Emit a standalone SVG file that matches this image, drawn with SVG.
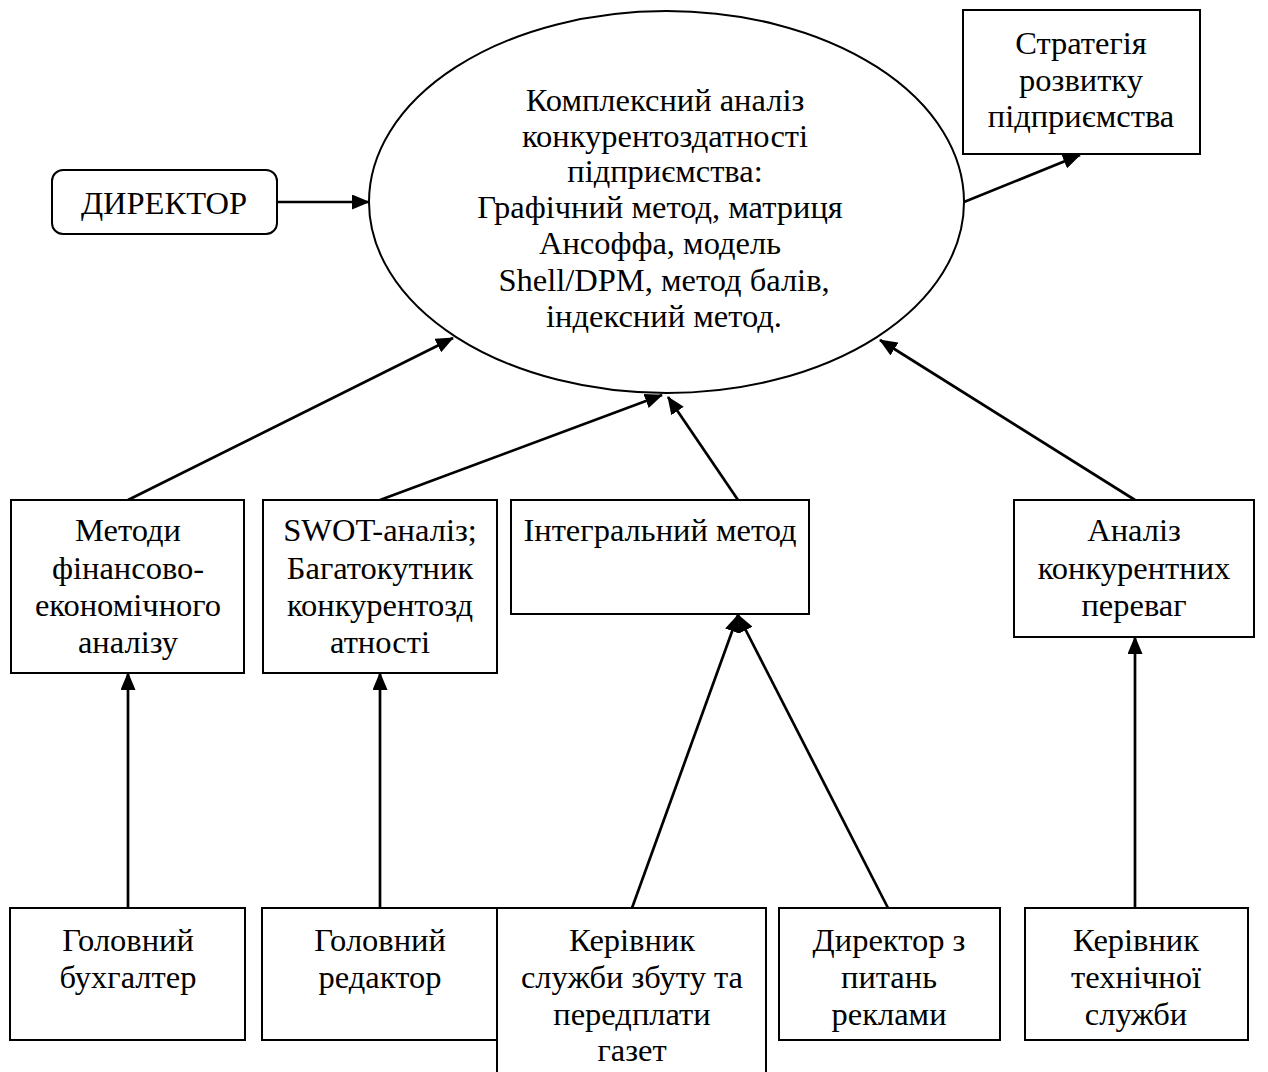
<svg xmlns="http://www.w3.org/2000/svg" width="1268" height="1072" viewBox="0 0 1268 1072">
<defs>
<marker id="ah" markerUnits="userSpaceOnUse" markerWidth="18" markerHeight="15" refX="17" refY="7.5" orient="auto">
<path d="M0,0 L18,7.5 L0,15 Z" fill="#000"/>
</marker>
<style>
.box{fill:#fff;stroke:#000;stroke-width:2}
.t{font-family:"Liberation Serif","Times New Roman",serif;font-size:32.5px;fill:#000;text-anchor:middle}
.c{stroke:#000;stroke-width:2.7;fill:none;marker-end:url(#ah)}
</style>
</defs>
<rect width="1268" height="1072" fill="#fff"/>
<g id="connectors">
<line class="c" x1="277" y1="202" x2="369" y2="202"/>
<line class="c" x1="964" y1="202" x2="1080" y2="155"/>
<line class="c" x1="128" y1="500" x2="453" y2="338"/>
<line class="c" x1="380" y1="500" x2="662" y2="395"/>
<line class="c" x1="738" y1="500" x2="668" y2="397"/>
<line class="c" x1="1135" y1="500" x2="880" y2="340"/>
<line class="c" x1="128" y1="908" x2="128" y2="673"/>
<line class="c" x1="380" y1="908" x2="380" y2="673"/>
<line class="c" x1="632" y1="908" x2="738" y2="615"/>
<line class="c" x1="888" y1="908" x2="738" y2="615"/>
<line class="c" x1="1135" y1="908" x2="1135" y2="637"/>
</g>
<g id="director">
<rect class="box" x="52" y="170" width="225" height="64" rx="11"/>
<text class="t" x="164" y="214">ДИРЕКТОР</text>
</g>
<g id="analysis">
<ellipse class="box" cx="666.5" cy="202" rx="297.5" ry="191"/>
<text class="t" x="665" y="111">Комплексний аналіз</text>
<text class="t" x="665" y="147">конкурентоздатності</text>
<text class="t" x="665" y="182">підприємства:</text>
<text class="t" x="660" y="218">Графічний метод, матриця</text>
<text class="t" x="660" y="254">Ансоффа, модель</text>
<text class="t" x="664" y="291">Shell/DPM, метод балів,</text>
<text class="t" x="664" y="327">індексний метод.</text>
</g>
<g id="strategy">
<rect class="box" x="963" y="10" width="237" height="144"/>
<text class="t" x="1081" y="54">Стратегія</text>
<text class="t" x="1081" y="91">розвитку</text>
<text class="t" x="1081" y="127">підприємства</text>
</g>
<g id="finance">
<rect class="box" x="11" y="500" width="233" height="173"/>
<text class="t" x="128" y="541">Методи</text>
<text class="t" x="128" y="579">фінансово-</text>
<text class="t" x="128" y="616">економічного</text>
<text class="t" x="128" y="653">аналізу</text>
</g>
<g id="swot">
<rect class="box" x="263" y="500" width="234" height="173"/>
<text class="t" x="380" y="541">SWOT-аналіз;</text>
<text class="t" x="380" y="579">Багатокутник</text>
<text class="t" x="380" y="616">конкурентозд</text>
<text class="t" x="380" y="653">атності</text>
</g>
<g id="integral">
<rect class="box" x="511" y="500" width="298" height="114"/>
<text class="t" x="660" y="541">Інтегральний метод</text>
</g>
<g id="competitive">
<rect class="box" x="1014" y="500" width="240" height="137"/>
<text class="t" x="1134" y="541">Аналіз</text>
<text class="t" x="1134" y="579">конкурентних</text>
<text class="t" x="1134" y="616">переваг</text>
</g>
<g id="accountant">
<rect class="box" x="10" y="908" width="235" height="132"/>
<text class="t" x="128" y="951">Головний</text>
<text class="t" x="128" y="988">бухгалтер</text>
</g>
<g id="editor">
<rect class="box" x="262" y="908" width="235" height="132"/>
<text class="t" x="380" y="951">Головний</text>
<text class="t" x="380" y="988">редактор</text>
</g>
<g id="sales">
<rect class="box" x="497" y="908" width="269" height="170"/>
<text class="t" x="632" y="951">Керівник</text>
<text class="t" x="632" y="988">служби збуту та</text>
<text class="t" x="632" y="1025">передплати</text>
<text class="t" x="632" y="1061">газет</text>
</g>
<g id="advertising">
<rect class="box" x="779" y="908" width="221" height="132"/>
<text class="t" x="889" y="951">Директор з</text>
<text class="t" x="889" y="988">питань</text>
<text class="t" x="889" y="1025">реклами</text>
</g>
<g id="technical">
<rect class="box" x="1025" y="908" width="223" height="132"/>
<text class="t" x="1136" y="951">Керівник</text>
<text class="t" x="1136" y="988">технічної</text>
<text class="t" x="1136" y="1025">служби</text>
</g>
</svg>
